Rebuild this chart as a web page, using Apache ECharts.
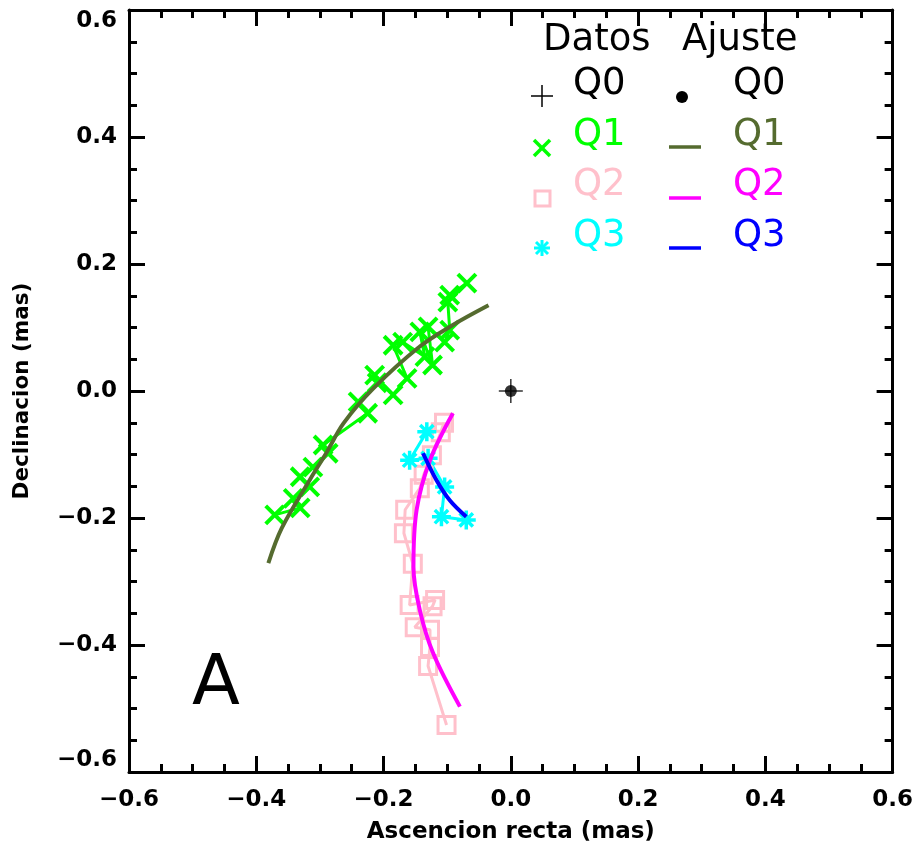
<!DOCTYPE html>
<html>
<head>
<meta charset="utf-8">
<script src="https://cdn.jsdelivr.net/npm/echarts@6/dist/echarts.min.js"></script>
<style>html,body{margin:0;padding:0;background:#fff}#c{width:916px;height:853px}</style>
</head>
<body>
<div id="c"></div>
<script>
// ---- data ----
const xTicks = [-0.6, -0.4, -0.2, 0.0, 0.2, 0.4, 0.6];
const yTicks = [-0.6, -0.4, -0.2, 0.0, 0.2, 0.4, 0.6];

const q0Data = [[0.0, 0.0]];
const q0Fit = [[0.0, 0.0]];

const q1Data = [
  [-0.371,-0.195],[-0.331,-0.184],[-0.342,-0.169],[-0.316,-0.151],[-0.331,-0.135],
  [-0.311,-0.120],[-0.287,-0.098],[-0.295,-0.085],[-0.225,-0.035],[-0.240,-0.017],
  [-0.210,0.013],[-0.214,0.025],[-0.185,-0.006],[-0.163,0.020],[-0.185,0.072],
  [-0.170,0.077],[-0.135,0.054],[-0.143,0.093],[-0.123,0.041],[-0.130,0.101],
  [-0.104,0.077],[-0.096,0.096],[-0.099,0.140],[-0.069,0.170],[-0.096,0.151]
];
const q1Fit = [
  [-0.381,-0.271],[-0.360,-0.216],[-0.316,-0.140],[-0.289,-0.096],[-0.263,-0.051],
  [-0.216,0.004],[-0.143,0.070],[-0.091,0.104],[-0.035,0.135]
];

const q2Data = [
  [-0.105,-0.050],[-0.110,-0.065],[-0.124,-0.101],[-0.137,-0.132],[-0.143,-0.153],
  [-0.166,-0.187],[-0.168,-0.224],[-0.154,-0.272],[-0.159,-0.337],[-0.119,-0.329],
  [-0.123,-0.339],[-0.151,-0.372],[-0.127,-0.376],[-0.127,-0.403],[-0.130,-0.433],
  [-0.101,-0.526]
];
const q2Fit = [
  [-0.091,-0.035],[-0.127,-0.109],[-0.148,-0.187],[-0.153,-0.277],[-0.143,-0.345],
  [-0.122,-0.413],[-0.080,-0.497]
];

const q3Data = [
  [-0.132,-0.064],[-0.159,-0.109],[-0.130,-0.106],[-0.104,-0.151],[-0.109,-0.198],[-0.070,-0.203]
];
const q3Fit = [
  [-0.138,-0.098],[-0.117,-0.140],[-0.096,-0.172],[-0.070,-0.198]
];

// ---- style ----
const FONT = 'DejaVu Sans';
const C = {
  q1d:'#00ff00', q2d:'#ffc0cb', q3d:'#00ffff',
  q1f:'#556b2f', q2f:'#ff00ff', q3f:'#0000ff'
};
const SYM_X = 'path://M0,0L10,10M10,0L0,10';
const SYM_PLUS = 'path://M0,5L10,5M5,0L5,10';
const SYM_AST = 'path://M5,0L5,10M0,5L10,5M1.5,1.5L8.5,8.5M8.5,1.5L1.5,8.5';

function fmt(v){
  if (Math.abs(v) < 1e-9) return '0.0';
  return (v < 0 ? '\u2212' : '') + Math.abs(v).toFixed(1);
}

function axis(pos, showLabel, name, nameGap, nameSize){
  return {
    type:'value', min:-0.6, max:0.6, interval:0.2, position:pos,
    name: name || '', nameLocation:'middle', nameGap: nameGap || 0,
    nameTextStyle:{fontFamily:FONT, fontWeight:'bold', fontSize:nameSize || 20, color:'#000'},
    axisLine:{show:true, onZero:false, lineStyle:{color:'#000', width:3}},
    axisTick:{show:true, inside:true, length:16, lineStyle:{color:'#000', width:3}},
    minorTick:{show:true, splitNumber:4, length:8, lineStyle:{color:'#000', width:3}},
    splitLine:{show:false}, minorSplitLine:{show:false},
    axisLabel:{show:showLabel, formatter:fmt, fontFamily:FONT, fontWeight:'bold',
      fontSize:23, color:'#000', margin:(pos === 'bottom' ? 17 : 12),
      verticalAlignMinLabel:(pos === 'left' ? 'bottom' : null),
      verticalAlignMaxLabel:(pos === 'left' ? 'top' : null)}
  };
}

const chart = echarts.init(document.getElementById('c'), null, {renderer:'canvas'});

function dataSeries(d, color, symbol, size, bw, fillColor){
  return {
    type:'line', data:d, symbol:symbol, symbolSize:size, showSymbol:true,
    lineStyle:{color:color, width:3}, itemStyle:{color:fillColor || 'none', borderColor:color, borderWidth:bw},
    emphasis:{disabled:true}, animation:false, silent:true, z:2
  };
}
function fitSeries(d, color){
  return {
    type:'line', data:d, smooth:0.35, symbol:'none',
    lineStyle:{color:color, width:4}, emphasis:{disabled:true}, animation:false, silent:true, z:3
  };
}

const legendRows = [
  {y:84, lab:'Q0', dc:'#000', fc:'#000'},
  {y:135, lab:'Q1', dc:C.q1d, fc:C.q1f},
  {y:185, lab:'Q2', dc:C.q2d, fc:C.q2f},
  {y:236, lab:'Q3', dc:C.q3d, fc:C.q3f}
];

const graphics = [
  {type:'text', style:{text:'Datos', x:543, y:40, fill:'#000', font:'37px "DejaVu Sans"', textVerticalAlign:'middle'}},
  {type:'text', style:{text:'Ajuste', x:682, y:40, fill:'#000', font:'37px "DejaVu Sans"', textVerticalAlign:'middle'}},
  {type:'text', style:{text:'A', x:192, y:686, fill:'#000', font:'70px "DejaVu Sans"', textVerticalAlign:'middle'}}
];
legendRows.forEach(function(r){
  graphics.push({type:'text', style:{text:r.lab, x:573, y:r.y, fill:r.dc, font:'37px "DejaVu Sans"', textVerticalAlign:'middle'}});
  graphics.push({type:'text', style:{text:r.lab, x:733, y:r.y, fill:r.fc, font:'37px "DejaVu Sans"', textVerticalAlign:'middle'}});
});
// legend symbols
graphics.push({type:'group', children:[
  {type:'line', shape:{x1:531, y1:96, x2:553, y2:96}, style:{stroke:'#000', lineWidth:1.5}},
  {type:'line', shape:{x1:542, y1:85, x2:542, y2:107}, style:{stroke:'#000', lineWidth:1.5}},
  {type:'circle', shape:{cx:682, cy:97, r:6}, style:{fill:'#000'}},
  {type:'line', shape:{x1:534, y1:140, x2:550, y2:156}, style:{stroke:C.q1d, lineWidth:3.5}},
  {type:'line', shape:{x1:550, y1:140, x2:534, y2:156}, style:{stroke:C.q1d, lineWidth:3.5}},
  {type:'line', shape:{x1:669, y1:147, x2:701, y2:147}, style:{stroke:C.q1f, lineWidth:3.5}},
  {type:'rect', shape:{x:535, y:191, width:15, height:15}, style:{fill:'none', stroke:C.q2d, lineWidth:3}},
  {type:'line', shape:{x1:669, y1:198, x2:701, y2:198}, style:{stroke:C.q2f, lineWidth:3.5}},
  {type:'line', shape:{x1:542, y1:240, x2:542, y2:256}, style:{stroke:C.q3d, lineWidth:3}},
  {type:'line', shape:{x1:534, y1:248, x2:550, y2:248}, style:{stroke:C.q3d, lineWidth:3}},
  {type:'line', shape:{x1:536, y1:242, x2:548, y2:254}, style:{stroke:C.q3d, lineWidth:3}},
  {type:'line', shape:{x1:548, y1:242, x2:536, y2:254}, style:{stroke:C.q3d, lineWidth:3}},
  {type:'line', shape:{x1:669, y1:248, x2:701, y2:248}, style:{stroke:C.q3f, lineWidth:3.5}}
]});

chart.setOption({
  animation:false,
  backgroundColor:'#fff',
  grid:{left:129, right:23, top:10, bottom:81, containLabel:false},
  xAxis:[axis('bottom', true, 'Ascencion recta (mas)', 49, 23), axis('top', false)],
  yAxis:[axis('left', true, 'Declinacion (mas)', 96, 21.5), axis('right', false)],
  series:[
    dataSeries(q1Data, C.q1d, SYM_X, 18, 4),
    dataSeries(q2Data, C.q2d, 'rect', 17, 3),
    dataSeries(q3Data, C.q3d, SYM_AST, 19, 3.5),
    fitSeries(q1Fit, C.q1f),
    fitSeries(q2Fit, C.q2f),
    fitSeries(q3Fit, C.q3f),
    {type:'scatter', data:q0Data, symbol:SYM_PLUS, symbolSize:24,
      itemStyle:{color:'none', borderColor:'#000', borderWidth:1.5}, silent:true, z:4},
    {type:'scatter', data:q0Fit, symbol:'circle', symbolSize:12,
      itemStyle:{color:'#000'}, silent:true, z:5}
  ],
  graphic:graphics
});
</script>
</body>
</html>
